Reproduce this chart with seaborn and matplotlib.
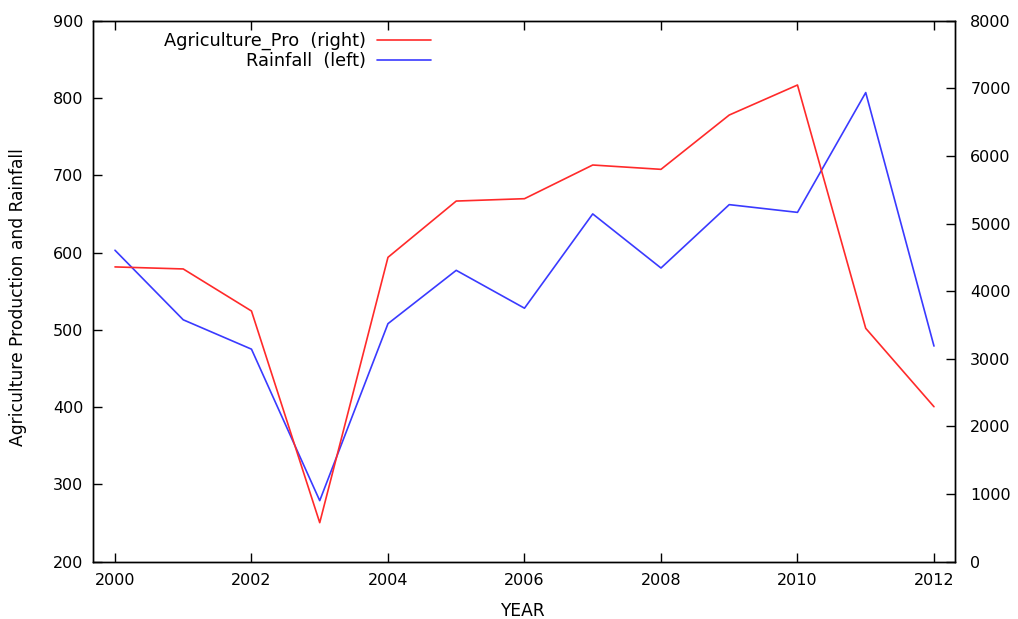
import matplotlib
matplotlib.use("Agg")
import matplotlib.pyplot as plt
import seaborn as sns
import pandas as pd

years = [2000, 2001, 2002, 2003, 2004, 2005, 2006, 2007, 2008, 2009, 2010, 2011, 2012]
agri_pro = [4359, 4329, 3707, 577, 4501, 5333, 5368, 5866, 5802, 6605, 7049, 3451, 2292]
rainfall = [603, 513, 475, 279, 508, 577, 528, 650, 580, 662, 652, 807, 479]

left_ticks = [200, 300, 400, 500, 600, 700, 800, 900]
right_ticks = [0, 1000, 2000, 3000, 4000, 5000, 6000, 7000, 8000]
x_ticks = [2000, 2002, 2004, 2006, 2008, 2010, 2012]

sns.set_style("ticks")
plt.rcParams["font.family"] = ["DejaVu Sans"]
plt.rcParams["text.color"] = "black"
plt.rcParams["axes.labelcolor"] = "black"
plt.rcParams["xtick.color"] = "black"
plt.rcParams["ytick.color"] = "black"

df = pd.DataFrame({"YEAR": years, "Agriculture_Pro": agri_pro, "Rainfall": rainfall})

fig = plt.figure(figsize=(10.18, 6.19), dpi=100)
ax = fig.add_axes([93 / 1018, (619 - 561.7) / 619, (955 - 93) / 1018, (561.7 - 20.7) / 619])
ax2 = ax.twinx()

red = "#ff2a2a"
blue = "#3a3aff"
lw = 1.2

sns.lineplot(data=df, x="YEAR", y="Rainfall", ax=ax, color=blue, lw=lw, label="Rainfall  (left)", legend=False)
sns.lineplot(data=df, x="YEAR", y="Agriculture_Pro", ax=ax2, color=red, lw=lw, label="Agriculture_Pro  (right)", legend=False)

ax.set_xlim(1999.678, 2012.308)
ax.set_ylim(200, 900)
ax2.set_ylim(0, 8000)
ax.set_xticks(x_ticks)
ax.set_yticks(left_ticks)
ax2.set_yticks(right_ticks)

fs = 11.5
lfs = 12.3
gfs = 12.8
ax.tick_params(axis="x", direction="in", length=6.5, width=1, top=True, labelsize=fs, pad=8, colors="black")
ax.tick_params(axis="y", direction="in", length=6.5, width=1, labelsize=fs, pad=7, colors="black")
ax2.tick_params(axis="y", direction="in", length=6.5, width=1, labelsize=fs, pad=11, right=True, colors="black")

for a in (ax, ax2):
    for s in a.spines.values():
        s.set_visible(True)
        s.set_linewidth(1.0)
        s.set_color("black")

ax.set_xlabel("YEAR", fontsize=lfs, color="black")
ax.xaxis.set_label_coords(0.498, -0.0745)
ax.set_ylabel("Agriculture Production and Rainfall", fontsize=lfs, color="black")
ax.yaxis.set_label_coords(-0.0766, 0.49)
ax2.set_ylabel("")

h1, l1 = ax.get_legend_handles_labels()
h2, l2 = ax2.get_legend_handles_labels()
leg = ax2.legend(h2 + h1, l2 + l1, loc="upper right", bbox_to_anchor=(0.392, 0.979),
                 frameon=False, markerfirst=False, fontsize=gfs, handlelength=3.04,
                 handletextpad=0.62, labelspacing=0.1, borderpad=0, borderaxespad=0)
for t in leg.get_texts():
    t.set_color("black")

fig.savefig("out.png", dpi=100)
